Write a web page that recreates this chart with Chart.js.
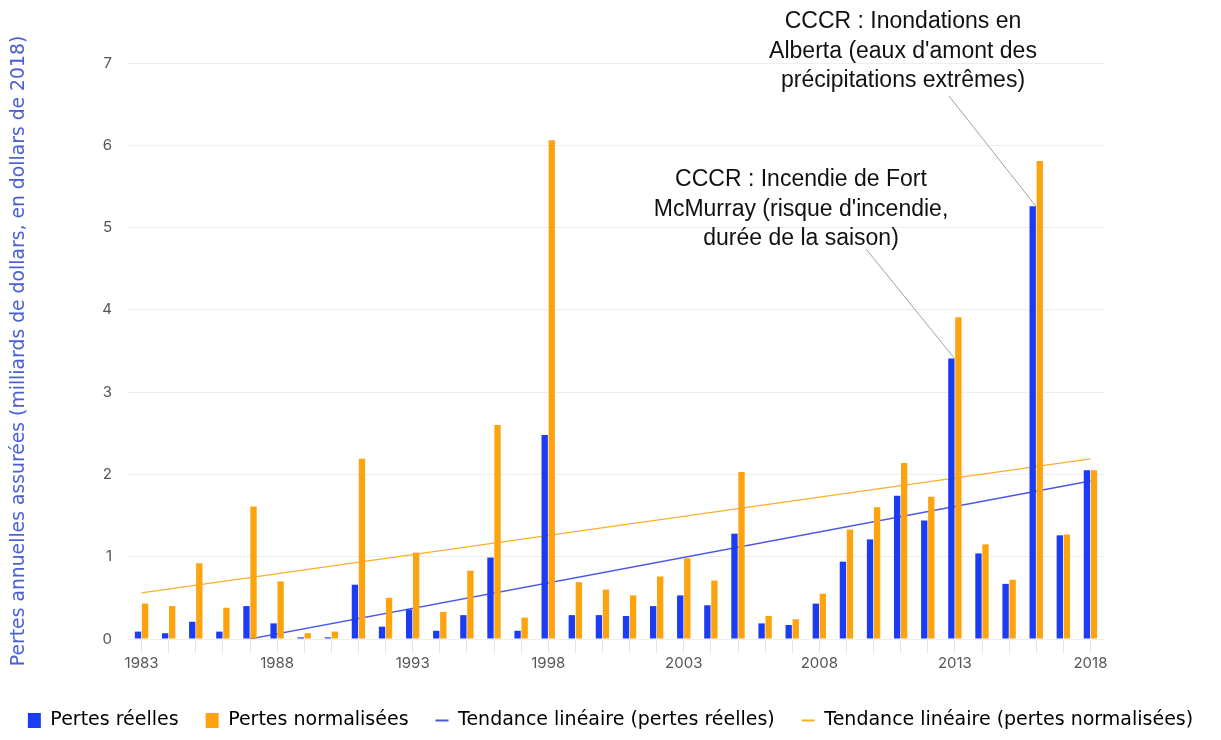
<!DOCTYPE html>
<html><head><meta charset="utf-8">
<script src="https://cdn.jsdelivr.net/npm/chart.js@4"></script>
<style>html,body{margin:0;padding:0;background:#fff;overflow:hidden}</style>
</head><body>
<canvas id="c" width="1221" height="740"></canvas>
<script>
const years = ['1983','1984','1985','1986','1987','1988','1989','1990','1991','1992',
  '1993','1994','1995','1996','1997','1998','1999','2000','2001','2002',
  '2003','2004','2005','2006','2007','2008','2009','2010','2011','2012',
  '2013','2014','2015','2016','2017','2018'];
const pertesReelles = [0.09,0.07,0.21,0.09,0.40,0.19,0.02,0.02,0.66,0.15,
  0.36,0.10,0.29,0.99,0.10,2.48,0.29,0.29,0.28,0.40,
  0.53,0.41,1.28,0.19,0.17,0.43,0.94,1.21,1.74,1.44,
  3.41,1.04,0.67,5.26,1.26,2.05];
const pertesNormalisees = [0.43,0.40,0.92,0.38,1.61,0.70,0.07,0.09,2.19,0.50,
  1.05,0.33,0.83,2.60,0.26,6.06,0.69,0.60,0.53,0.76,
  0.98,0.71,2.03,0.28,0.24,0.55,1.33,1.60,2.14,1.73,
  3.91,1.15,0.72,5.81,1.27,2.05];
// trend lines: read end points only
const tendanceReelles = [null,null,null,null,0,null,null,null,null,null,
  null,null,null,null,null,null,null,null,null,null,
  null,null,null,null,null,null,null,null,null,null,
  null,null,null,null,null,1.92];
const tendanceNormalisees = [0.56,null,null,null,null,null,null,null,null,null,
  null,null,null,null,null,null,null,null,null,null,
  null,null,null,null,null,null,null,null,null,null,
  null,null,null,null,null,2.19];
const yTicks = [0,1,2,3,4,5,6,7];
const seriesNames = ['Pertes réelles','Pertes normalisées','Tendance linéaire (pertes réelles)','Tendance linéaire (pertes normalisées)'];
const yTitle = 'Pertes annuelles assurées (milliards de dollars, en dollars de 2018)';
const annotationYears = ['2013','2016'];
const annotationTexts = [
  ['CCCR : Incendie de Fort','McMurray (risque d\'incendie,','durée de la saison)'],
  ['CCCR : Inondations en','Alberta (eaux d\'amont des','précipitations extrêmes)']
];

const BLUE = '#1b3cf2', ORANGE = '#fca30f';
const TBLUE = '#4b57e6', TORANGE = '#f6b129';

const annotPos = [
  {cx: 801, y0: 180, from: [866, 249]},
  {cx: 903, y0: 22, from: [949, 96]}
];

const annotPlugin = {
  id: 'annot',
  afterDatasetsDraw(chart) {
    const ctx = chart.ctx;
    const meta = chart.getDatasetMeta(0);
    annotationYears.forEach((yr, i) => {
      const idx = years.indexOf(yr);
      const bar = meta.data[idx];
      const p = annotPos[i];
      ctx.save();
      ctx.strokeStyle = '#a0a0a0';
      ctx.lineWidth = 1;
      ctx.beginPath();
      ctx.moveTo(p.from[0], p.from[1]);
      ctx.lineTo(bar.x + bar.width / 2, bar.y);
      ctx.stroke();
      ctx.fillStyle = '#111';
      ctx.font = '23px "Liberation Sans", Arial, sans-serif';
      ctx.textAlign = 'center';
      ctx.textBaseline = 'middle';
      annotationTexts[i].forEach((t, j) => ctx.fillText(t, p.cx, p.y0 + j * 29.3));
      ctx.restore();
    });
  }
};

new Chart(document.getElementById('c'), {
  type: 'bar',
  data: {
    labels: years,
    datasets: [
      {label: seriesNames[0], data: pertesReelles, backgroundColor: BLUE, categoryPercentage: 0.52, barPercentage: 0.9},
      {label: seriesNames[1], data: pertesNormalisees, backgroundColor: ORANGE, categoryPercentage: 0.52, barPercentage: 0.9},
      {type: 'line', label: seriesNames[2], data: tendanceReelles, borderColor: TBLUE, backgroundColor: TBLUE, borderWidth: 1.3, pointRadius: 0, spanGaps: true, tension: 0},
      {type: 'line', label: seriesNames[3], data: tendanceNormalisees, borderColor: TORANGE, backgroundColor: TORANGE, borderWidth: 1.3, pointRadius: 0, spanGaps: true, tension: 0}
    ]
  },
  options: {
    responsive: false,
    animation: false,
    layout: {padding: {left: 0, right: 0, top: 63, bottom: 0}},
    plugins: {
      tooltip: {enabled: false},
      legend: {
        position: 'bottom',
        labels: {
          usePointStyle: true,
          pointStyleWidth: 13,
          boxHeight: 15,
          padding: 27,
          color: '#222',
          font: {family: '"DejaVu Sans", sans-serif', size: 19},
          generateLabels(chart) {
            return chart.data.datasets.map((d, i) => ({
              text: d.label,
              fillStyle: d.type === 'line' ? d.borderColor : d.backgroundColor,
              strokeStyle: d.type === 'line' ? d.borderColor : d.backgroundColor,
              lineWidth: d.type === 'line' ? 2 : 0,
              pointStyle: d.type === 'line' ? 'line' : 'rect',
              datasetIndex: i,
              hidden: false
            }));
          }
        }
      }
    },
    scales: {
      x: {
        grid: {drawOnChartArea: false, drawTicks: true, tickLength: 14, offset: false, color: '#e3e3e3'},
        border: {display: false},
        ticks: {
          autoSkip: false, maxRotation: 0, padding: 1, color: '#555',
          font: {family: 'Inter, sans-serif', size: 15},
          callback: (v, i) => (i % 5 === 0 ? years[i] : '')
        },
        afterFit(scale) { scale.height = 45; }
      },
      y: {
        min: 0, max: 7,
        afterBuildTicks(scale) { scale.ticks = yTicks.map(v => ({value: v})); },
        grid: {drawTicks: false, color: '#eeeeee'},
        border: {display: false},
        ticks: {padding: 16, color: '#555', font: {family: 'Inter, sans-serif', size: 15}},
        title: {display: true, text: yTitle, color: '#4a60d6', padding: {top: 8, bottom: 0},
          font: {family: '"DejaVu Sans", sans-serif', size: 18.8}},
        afterFit(scale) { scale.width = 128; }
      },
      yRight: {
        position: 'right',
        display: true,
        grid: {display: false},
        border: {display: false},
        ticks: {display: false},
        afterFit(scale) { scale.width = 117; }
      }
    }
  },
  plugins: [annotPlugin]
});
</script>
</body></html>
